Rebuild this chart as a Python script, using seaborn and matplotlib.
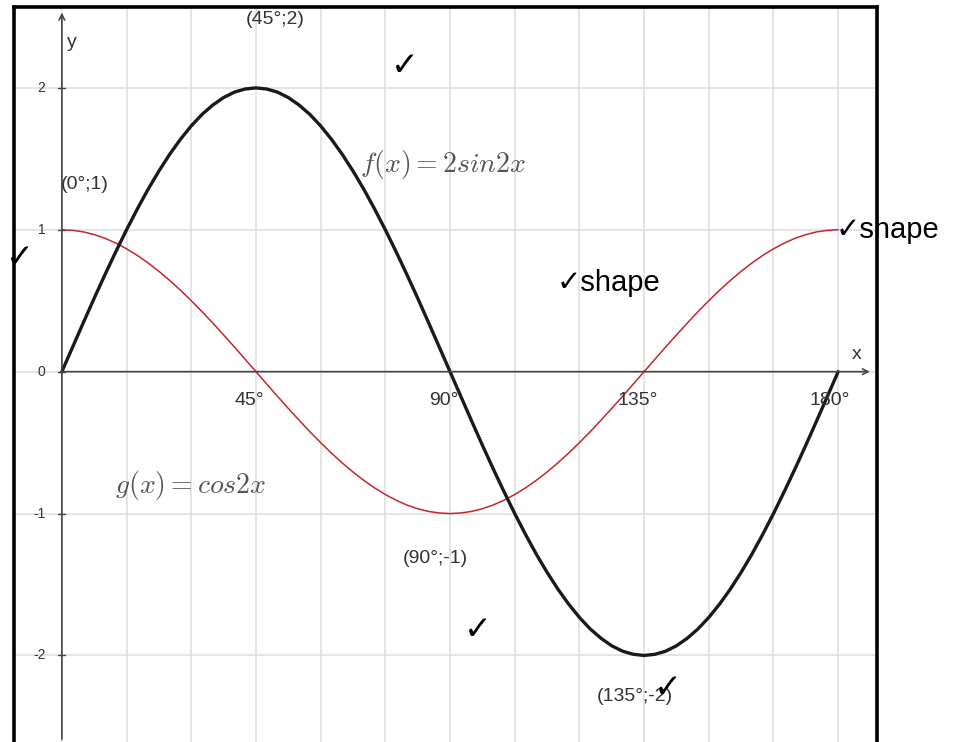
import numpy as np
import pandas as pd
import matplotlib.pyplot as plt
import seaborn as sns

# values, every 2.5 degrees
angles = [i * 2.5 for i in range(73)]
f_vals = [0.0, 0.174, 0.347, 0.518, 0.684, 0.845, 1.0, 1.147, 1.286, 1.414,
          1.532, 1.638, 1.732, 1.813, 1.879, 1.932, 1.970, 1.992, 2.0,
          1.992, 1.970, 1.932, 1.879, 1.813, 1.732, 1.638, 1.532, 1.414,
          1.286, 1.147, 1.0, 0.845, 0.684, 0.518, 0.347, 0.174, 0.0,
          -0.174, -0.347, -0.518, -0.684, -0.845, -1.0, -1.147, -1.286, -1.414,
          -1.532, -1.638, -1.732, -1.813, -1.879, -1.932, -1.970, -1.992, -2.0,
          -1.992, -1.970, -1.932, -1.879, -1.813, -1.732, -1.638, -1.532, -1.414,
          -1.286, -1.147, -1.0, -0.845, -0.684, -0.518, -0.347, -0.174, 0.0]
g_vals = [1.0, 0.996, 0.985, 0.966, 0.940, 0.906, 0.866, 0.819, 0.766, 0.707,
          0.643, 0.574, 0.5, 0.423, 0.342, 0.259, 0.174, 0.087, 0.0,
          -0.087, -0.174, -0.259, -0.342, -0.423, -0.5, -0.574, -0.643, -0.707,
          -0.766, -0.819, -0.866, -0.906, -0.940, -0.966, -0.985, -0.996, -1.0,
          -0.996, -0.985, -0.966, -0.940, -0.906, -0.866, -0.819, -0.766, -0.707,
          -0.643, -0.574, -0.5, -0.423, -0.342, -0.259, -0.174, -0.087, 0.0,
          0.087, 0.174, 0.259, 0.342, 0.423, 0.5, 0.574, 0.643, 0.707,
          0.766, 0.819, 0.866, 0.906, 0.940, 0.966, 0.985, 0.996, 1.0]

x_ticks = [45, 90, 135, 180]
x_tick_labels = ["45°", "90°", "135°", "180°"]
y_ticks = [2, 1, 0, -1, -2]
y_tick_labels = ["2", "1", "0", "-1", "-2"]

points = ["(45°;2)", "(0°;1)", "(90°;-1)", "(135°;-2)"]
point_pos = [(49.4, 2.48), (5.3, 1.32), (86.5, -1.32), (132.9, -2.29)]

df = pd.DataFrame({"x": angles, "f": f_vals, "g": g_vals})

sns.set_style("white")
plt.rcParams['font.family'] = ['Liberation Sans', 'DejaVu Sans']
plt.rcParams['mathtext.fontset'] = 'cm'

fig = plt.figure(figsize=(9.56, 7.42), dpi=100)
ax = fig.add_axes([14 / 956, 0, (877 - 14) / 956, (742 - 7) / 742])

ax.set_xlim(-11.1, 189)
ax.set_ylim(-2.61, 2.57)

# grid
ax.set_xticks(range(0, 181, 15))
ax.set_yticks(y_ticks)
ax.grid(True, color="#dcdcdc", linewidth=1.1)
ax.tick_params(length=0, labelbottom=False, labelleft=False)

for side in ["top", "left", "right"]:
    ax.spines[side].set_color("black")
    ax.spines[side].set_linewidth(2.6)
ax.spines["bottom"].set_visible(False)

# axes with arrows
ax.annotate("", xy=(188, 0), xytext=(0, 0),
            arrowprops=dict(arrowstyle="->", color="#444444", lw=1.2))
ax.annotate("", xy=(0, 2.55), xytext=(0, -2.61),
            arrowprops=dict(arrowstyle="->", color="#444444", lw=1.2))
for yt in y_ticks:
    ax.plot([-0.8, 0.8], [yt, yt], color="#444444", lw=1.0)

sns.lineplot(data=df, x="x", y="g", ax=ax, color="#c1272d", linewidth=1.1)
sns.lineplot(data=df, x="x", y="f", ax=ax, color="#1a1a1a", linewidth=2.4)
ax.set_xlabel("")
ax.set_ylabel("")

for xt, lab in zip(x_ticks, x_tick_labels):
    ax.text(xt - 1.5 if xt < 180 else xt - 2, -0.2, lab, ha="center", va="center",
            fontsize=14, color="#333333")
for yt, lab in zip(y_ticks, y_tick_labels):
    ax.text(-3.8, yt, lab, ha="right", va="center", fontsize=10, color="#333333")
ax.text(184.2, 0.12, "x", ha="center", va="center", fontsize=14, color="#333333")
ax.text(2.3, 2.32, "y", ha="center", va="center", fontsize=14, color="#333333")

for lab, (px, py) in zip(points, point_pos):
    ax.text(px, py, lab, ha="center", va="center", fontsize=14, color="#333333")

ax.text(69.1, 1.46, r"$f(x) = 2sin2x$", ha="left", va="center", fontsize=20, color="#555555")
ax.text(12.3, -0.80, r"$g(x) = cos2x$", ha="left", va="center", fontsize=20, color="#555555")

# markers written on top of the sheet
def fig_text(px, py, s, ha="center", size=24):
    fig.text(px / 956, 1 - py / 742, s, ha=ha, va="center", fontsize=size,
             color="black", family=["DejaVu Sans"])

fig_text(405, 65, "✓")
fig_text(20, 258, "✓")
fig_text(478, 630, "✓")
fig_text(668, 688, "✓")
fig.text(836 / 956, 1 - 230 / 742, "✓shape", ha="left", va="center", fontsize=21,
         color="black", family=["Liberation Sans", "DejaVu Sans"])
fig.text(557 / 956, 1 - 283 / 742, "✓shape", ha="left", va="center", fontsize=21,
         color="black", family=["Liberation Sans", "DejaVu Sans"])

fig.savefig("out.png", dpi=100, facecolor="white")
